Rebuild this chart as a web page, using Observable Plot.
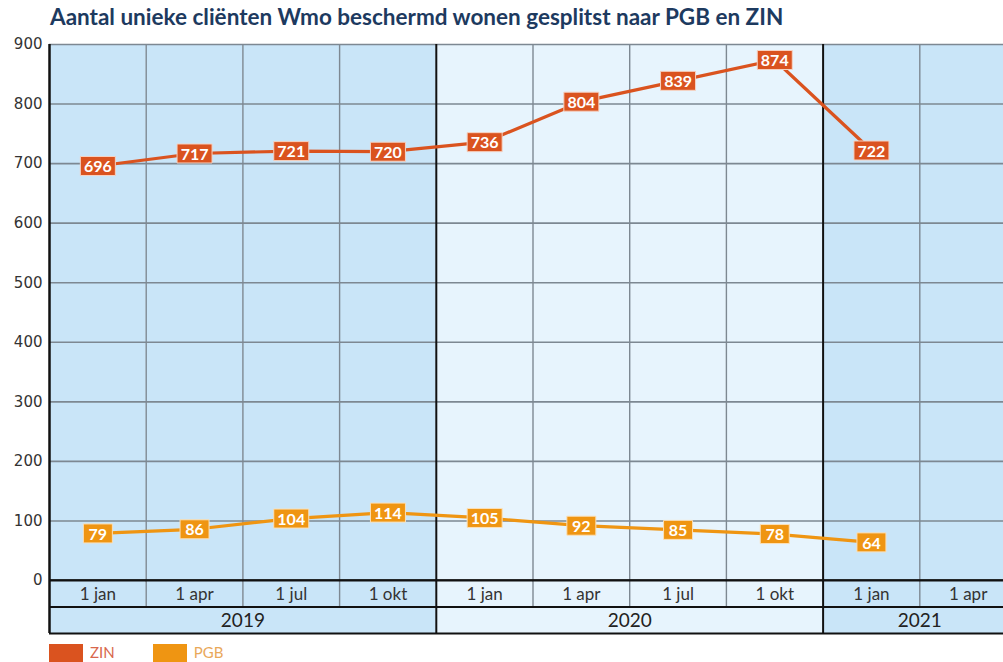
<!DOCTYPE html>
<html><head><meta charset="utf-8">
<script src="https://cdn.jsdelivr.net/npm/d3@7"></script>
<script src="https://cdn.jsdelivr.net/npm/@observablehq/plot@0.6"></script>
<style>
html,body{margin:0;padding:0;background:#fff;overflow:hidden;width:1003px;height:662px}
#wrap{position:relative;width:1003px;height:662px;overflow:hidden}
#title{position:absolute;left:50px;top:3px;font:bold 22.5px Lato,sans-serif;color:#1d3a5f;white-space:nowrap}
#main{position:absolute;left:0;top:34px}
#table{position:absolute;left:0;top:579px}
#legend{position:absolute;left:49px;top:642px;font:15px Lato,sans-serif;white-space:nowrap}
#legend span.sw{display:inline-block;width:34px;height:18px;vertical-align:top;margin-top:2px}
#legend span.lb{display:inline-block;margin-left:7px;margin-right:38px;line-height:18px;vertical-align:top;margin-top:1px}
svg{overflow:visible}
</style></head>
<body><div id="wrap">
<div id="title">Aantal unieke cliënten Wmo beschermd wonen gesplitst naar PGB en ZIN</div>
<div id="main"></div>
<div id="table"></div>
<div id="legend"></div>
</div>
<script>
// ---- data ----
const quarters = ["1 jan","1 apr","1 jul","1 okt","1 jan","1 apr","1 jul","1 okt","1 jan","1 apr"];
const quarterYears = [2019,2019,2019,2019,2020,2020,2020,2020,2021,2021];
const years = [2019, 2020, 2021];
const zinValues = [696, 717, 721, 720, 736, 804, 839, 874, 722];
const pgbValues = [79, 86, 104, 114, 105, 92, 85, 78, 64];
const yTicks = [0,100,200,300,400,500,600,700,800,900];
const seriesNames = ["ZIN", "PGB"];

// ---- styles ----
const colZIN = "#da531f", colPGB = "#ef9512";
const bgYear = {2019: "#c9e5f8", 2020: "#e7f4fd", 2021: "#c9e5f8"};
const gridCol = "#7d8892";

const cols = quarters.map((q, i) => ({i, q, year: quarterYears[i]}));
const yearSpans = years.map(y => {
  const idx = cols.filter(c => c.year === y).map(c => c.i);
  return {year: y, start: d3.min(idx), end: d3.max(idx) + 1};
});
const zin = zinValues.map((v, i) => ({i, v}));
const pgb = pgbValues.map((v, i) => ({i, v}));
const yMin = yTicks[0], yMax = yTicks[yTicks.length - 1];
const quarterBounds = d3.range(1, quarters.length).filter(i => quarterYears[i] === quarterYears[i-1]);
const yearBounds = yearSpans.slice(1).map(s => s.start);

const box = (w, h) => ({draw(ctx) { ctx.rect(-w/2, -h/2, w, h); }});
const box3 = box(35, 19), box2 = box(29, 19);

const xScale = {domain: [0, quarters.length], range: [49, 1016], axis: null};

function seriesMarks(data, color, edge) {
  return [
    Plot.line(data, {x: d => d.i + 0.5, y: "v", stroke: color, strokeWidth: 3.2}),
    Plot.dot(data, {filter: d => d.v >= 100, x: d => d.i + 0.5, y: "v", symbol: box3, fill: color, stroke: edge, strokeWidth: 1}),
    Plot.dot(data, {filter: d => d.v < 100, x: d => d.i + 0.5, y: "v", symbol: box2, fill: color, stroke: edge, strokeWidth: 1}),
    Plot.text(data, {x: d => d.i + 0.5, y: "v", text: d => String(d.v), fill: "#fff", fontWeight: "bold", fontSize: 16, fontFamily: "Lato", dy: 1})
  ];
}

const main = Plot.plot({
  width: 1003, height: 546,
  marginTop: 10, marginBottom: 0, marginLeft: 49, marginRight: 0,
  x: xScale,
  y: {domain: [yMin, yMax], axis: null},
  style: {overflow: "visible", background: "transparent"},
  marks: [
    Plot.rect(cols, {x1: "i", x2: d => d.i + 1, y1: yMin, y2: yMax, fill: d => bgYear[d.year]}),
    Plot.ruleY(yTicks, {stroke: gridCol, strokeWidth: 1.6}),
    Plot.ruleX(quarterBounds, {y1: yMin, y2: yMax, stroke: gridCol, strokeWidth: 1.4}),
    Plot.ruleX(yearBounds, {y1: yMin, y2: yMax, stroke: "#111", strokeWidth: 2}),
    Plot.ruleX([0], {y1: yMin, y2: yMax, stroke: "#111", strokeWidth: 2.5}),
    Plot.axisY(yTicks, {label: null, tickSize: 0, tickPadding: 7, fontSize: 15, fontFamily: "DejaVu Sans", fill: "#333", tickFormat: d => String(d)}),
    ...seriesMarks(zin, colZIN, "#f6d2c2"),
    ...seriesMarks(pgb, colPGB, "#fbe0b8"),
    Plot.ruleY([yMin], {stroke: "#111", strokeWidth: 2.5})
  ]
});
document.getElementById("main").appendChild(main);

const table = Plot.plot({
  width: 1003, height: 56,
  marginTop: 0, marginBottom: 0, marginLeft: 49, marginRight: 0,
  x: xScale,
  y: {domain: [0, 2], range: [1, 54], axis: null},
  style: {overflow: "visible", background: "transparent"},
  marks: [
    Plot.rect(cols, {x1: "i", x2: d => d.i + 1, y1: 0, y2: 1, fill: d => bgYear[d.year]}),
    Plot.rect(yearSpans, {x1: "start", x2: "end", y1: 1, y2: 2, fill: d => bgYear[d.year]}),
    Plot.ruleX(quarterBounds, {y1: 0, y2: 1, stroke: gridCol, strokeWidth: 1.4}),
    Plot.ruleX(yearBounds, {y1: 0, y2: 2, stroke: "#111", strokeWidth: 2}),
    Plot.ruleX([0], {y1: 0, y2: 2, stroke: "#111", strokeWidth: 2.5}),
    Plot.ruleY([0, 1, 2], {stroke: "#111", strokeWidth: 2}),
    Plot.text(cols, {x: d => d.i + 0.5, y: 0.5, text: "q", fontSize: 17, fontFamily: "Lato", fill: "#333", dy: 1}),
    Plot.text(yearSpans, {x: d => (d.start + d.end) / 2, y: 1.5, text: d => String(d.year), fontSize: 19, fontFamily: "Lato", fill: "#222", dy: 1})
  ]
});
document.getElementById("table").appendChild(table);

const legendColors = {ZIN: colZIN, PGB: colPGB};
const legendText = {ZIN: "#d8674c", PGB: "#e9a85a"};
document.getElementById("legend").innerHTML = seriesNames.map(n =>
  `<span class="sw" style="background:${legendColors[n]}"></span><span class="lb" style="color:${legendText[n]}">${n}</span>`).join("");
</script>
</body></html>
